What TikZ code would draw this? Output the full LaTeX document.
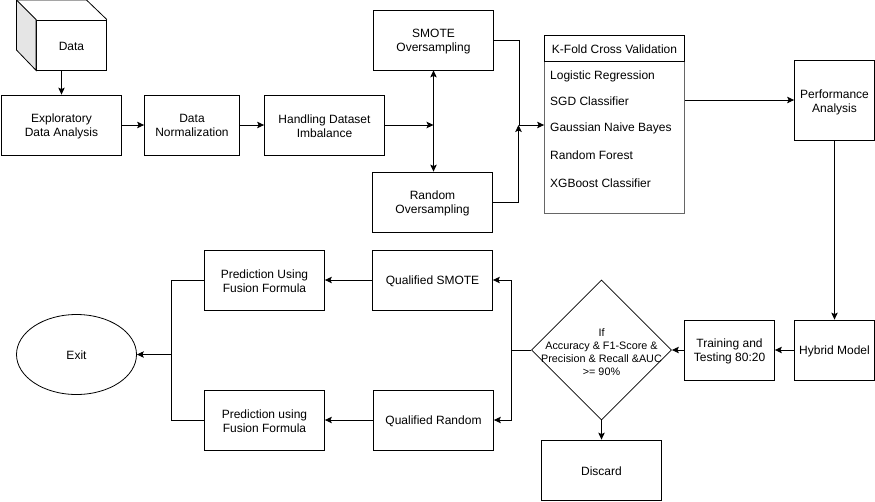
\documentclass[tikz,border=0pt]{standalone}
\usepackage{fontspec}
\setmainfont{Liberation Sans}
\usetikzlibrary{shapes.geometric}
\usetikzlibrary{arrows.meta}
\newcommand{\lift}{\rule{0pt}{12pt}}
\tikzset{every node/.style={font=\fontsize{12}{14}\selectfont,align=center,inner sep=0pt,execute at begin node={\rule{0pt}{10.5pt}}}}
\tikzset{stepbox/.style={draw=black,line width=0.8pt,rectangle,minimum width=#1,minimum height=60pt}}
\tikzset{link/.style={draw=black,line width=0.8pt,-{Stealth[length=7pt,width=6.5pt,inset=1.5pt]}}}
\begin{document}
\begin{tikzpicture}[x=1pt,y=-1pt]
		\useasboundingbox (0,0) rectangle (875,501);
		\node[stepbox=70pt,minimum height=50pt] (D) at (71.5,45) {Data};
		\filldraw[fill=black!10,draw=black,line width=0.8pt] (D.north west) -- (16.5,0) -- (16.5,50) -- (D.south west) -- cycle;
		\draw[line width=0.8pt] (16.5,0) -- (86.5,0) -- (D.north east);
		\node[stepbox=120pt] (E) at (61.5,125) {\lift Exploratory\\Data Analysis};
		\node[stepbox=95pt] (N) at (192,125) {Data\\Normalization};
		\node[stepbox=120pt] (H) at (324.5,125) {\lift Handling Dataset\\Imbalance};
		\node[stepbox=120pt] (S) at (433.5,40) {\lift SMOTE\\Oversampling};
		\node[stepbox=120pt] (R) at (432.5,202) {\lift Random\\Oversampling};
		\node[draw=black!60,line width=0.8pt,rectangle,minimum width=140pt,minimum height=152pt] (L) at (614.5,137) {};
		\node[stepbox=140pt,minimum height=26pt] (K) at (614.5,48.5) {K-Fold Cross Validation};
		\node[anchor=west] (L1) at (550,75) {Logistic Regression};
		\node[anchor=west] (L2) at (550,100.5) {SGD Classifier};
		\node[anchor=west] (L3) at (550,127) {Gaussian Naive Bayes};
		\node[anchor=west] (L4) at (550,154.5) {Random Forest};
		\node[anchor=west] (L5) at (550,182.5) {XGBoost Classifier};
		\node[stepbox=80pt,minimum height=80pt] (P) at (834.5,100.5) {\lift Performance\\Analysis};
		\node[stepbox=80pt] (Y) at (834.5,350) {Hybrid Model};
		\node[stepbox=90pt] (T) at (729.5,350) {\lift Training and\\Testing 80:20};
		\node[draw=black,line width=0.8pt,diamond,minimum width=140pt,minimum height=140pt,aspect=1] (F) at (601.5,350) {};
		\node[font=\fontsize{10.8}{13}\selectfont] (FT) at (601.5,350) {\lift If\\Accuracy \& F1-Score \&\\Precision \& Recall \&AUC\\>= 90\%};
		\node[stepbox=120pt] (X) at (601.5,470) {Discard};
		\node[stepbox=120pt] (QS) at (432.5,280) {Qualified SMOTE};
		\node[stepbox=120pt] (QR) at (433.5,420) {Qualified Random};
		\node[stepbox=120pt] (PS) at (264.5,280) {\lift Prediction Using\\Fusion Formula};
		\node[stepbox=120pt] (PR) at (264.5,420) {\lift Prediction using\\Fusion Formula};
		\node[draw=black,line width=0.8pt,ellipse,minimum width=120pt,minimum height=80pt] (Z) at (76.5,354.5) {Exit};
		\coordinate (J1) at (433.5,125);
		\coordinate (J2) at (518.5,125);
		\coordinate (J2a) at (519,125);
		\coordinate (J3) at (511.5,350);
		\coordinate (J4) at (171,354.5);
		\path [link] (D.south -| 61.5,0) -- (E.north -| 61.5,0);
		\path [link] (E) -- (N);
		\path [link] (N) -- (H);
		\path [link] (H) -- (J1);
		\path [link,{Stealth[length=7pt,width=6.5pt,inset=1.5pt]}-{Stealth[length=7pt,width=6.5pt,inset=1.5pt]}] (S.south) -- (J1 |- R.north);
		\path [link,-] (S) -| (J2a);
		\path [link] (R) -| (J2);
		\path [link] (J2) -- (J2 -| L.west);
		\path [link] (L.east |- 0,100) -- (P.west |- 0,100);
		\path [link] (P) -- (Y);
		\path [link] (Y) -- (T);
		\path [link] (T) -- (F);
		\path [link] (F) -- (X);
		\path [link,-] (F) -- (J3);
		\path [link] (J3) |- (QS.east);
		\path [link] (J3) |- (QR.east);
		\path [link] (QS) -- (PS);
		\path [link] (QR) -- (PR);
		\path [link,-] (PS) -| (J4);
		\path [link,-] (PR) -| (J4);
		\path [link] (J4) -- (Z);
	\end{tikzpicture}
\end{document}
